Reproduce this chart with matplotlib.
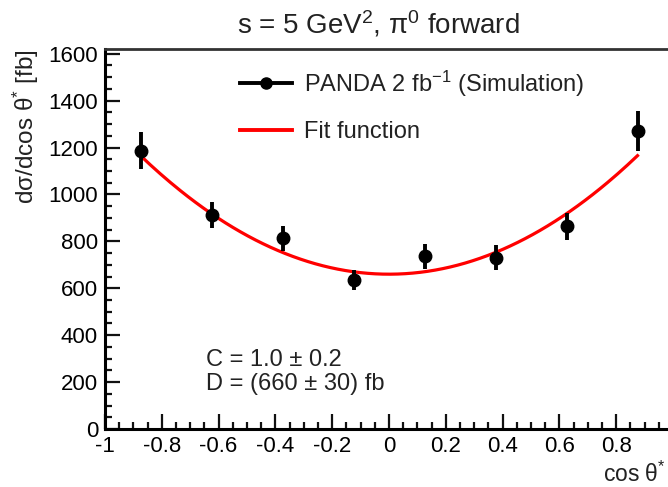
"""Differential cross section vs cos(theta*) for s = 5 GeV^2, pi0 forward,
with simulated PANDA points and the D*(1 + C cos^2) fit."""
import numpy as np
import matplotlib
matplotlib.use("Agg")
import matplotlib.pyplot as plt
from matplotlib.lines import Line2D
from matplotlib.ticker import MultipleLocator

plt.rcParams.update({
    "font.family": ["Liberation Sans", "DejaVu Sans"],
    "mathtext.fontset": "custom",
    "mathtext.rm": "Liberation Sans",
    "mathtext.it": "Liberation Sans:italic",
    "mathtext.bf": "Liberation Sans:bold",
    "text.color": "#222222",
})

# simulated points (bin centres, values, stat. errors)
cos_theta = [-0.875, -0.625, -0.375, -0.125, 0.125, 0.375, 0.625, 0.875]
xsec = [1187, 911, 813, 634, 736, 730, 864, 1272]
xsec_err = [80, 55, 53, 43, 53, 53, 57, 85]

# fit result
C_FIT = 1.0
C_ERR = 0.2
D_FIT = 660
D_ERR = 30

fig = plt.figure(figsize=(6.68, 4.87), dpi=100)
ax = fig.add_axes([105 / 668, 58 / 487, 568 / 668, 380 / 487])

xf = np.linspace(cos_theta[0], cos_theta[-1], 200)
ax.plot(xf, D_FIT * (1 + C_FIT * xf ** 2), color="#ff0000", lw=2.3, zorder=2)
ax.errorbar(cos_theta, xsec, yerr=xsec_err, fmt="o", color="black",
            ms=9, elinewidth=2.8, capsize=0, zorder=3)

ax.set_xlim(-1, 1)
ax.set_ylim(0, 1620)
ax.xaxis.set_minor_locator(MultipleLocator(0.05))
ax.yaxis.set_major_locator(MultipleLocator(200))
ax.yaxis.set_minor_locator(MultipleLocator(50))
ax.set_xticks(np.arange(-1, 0.9, 0.2))
ax.set_xticklabels(["-1", "-0.8", "-0.6", "-0.4", "-0.2", "0",
                    "0.2", "0.4", "0.6", "0.8"])
ax.tick_params(which="both", direction="in", top=False, right=False,
               width=1.6, color="#111111", labelsize=16, pad=5)
ax.tick_params(which="major", length=11)
ax.tick_params(which="minor", length=5)
for side in ("left", "bottom"):
    ax.spines[side].set_linewidth(2.2)
ax.spines["top"].set_linewidth(2.0)
ax.spines["top"].set_color("#333333")
ax.spines["right"].set_visible(False)

fig.text(378 / 668, 1 - 24 / 487, r"s = 5 GeV$^{2}$, π$^{0}$ forward",
         ha="center", va="center", fontsize=20)
fig.text(26 / 668, 1 - 49 / 487, r"dσ/dcos θ$^{*}$ [fb]", rotation=90,
         ha="center", va="top", fontsize=17.5)
ax.text(0.988, -0.085, r"cos θ$^{*}$", transform=ax.transAxes,
        ha="right", va="top", fontsize=16.5)

handles = [Line2D([], [], color="black", lw=2.8, marker="o", ms=8),
           Line2D([], [], color="#ff0000", lw=2.8)]
labels = [r"PANDA 2 fb$^{-1}$ (Simulation)", "Fit function"]
ax.legend(handles, labels, loc="upper left", bbox_to_anchor=(0.2, 1.005),
          frameon=False, fontsize=17, handlelength=2.2,
          handletextpad=0.5, labelspacing=0.95)

ax.text(0.177, 0.15, f"C = {C_FIT:.1f} ± {C_ERR:.1f}\n"
        f"D = ({D_FIT} ± {D_ERR}) fb", transform=ax.transAxes,
        ha="left", va="center", fontsize=17, linespacing=1.1)

fig.savefig("out.png", dpi=100)
